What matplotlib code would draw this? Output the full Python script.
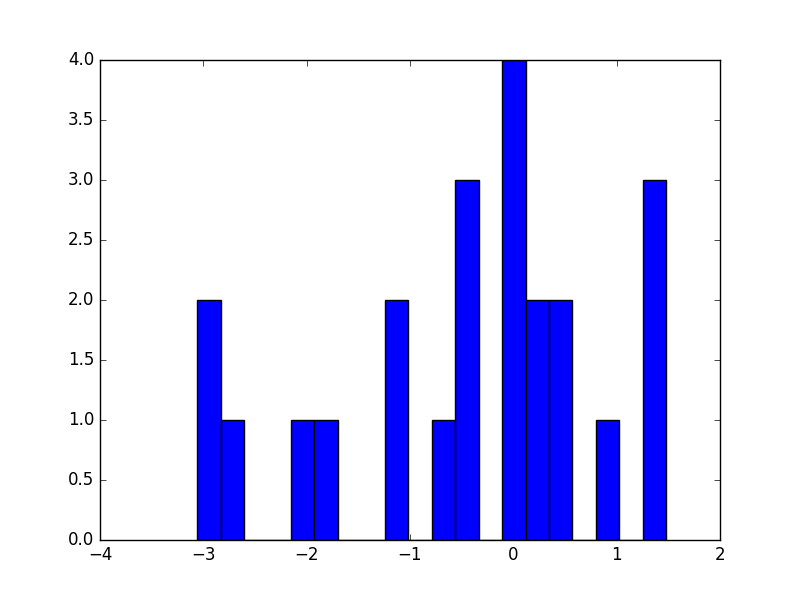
import numpy as np
import matplotlib
matplotlib.use("Agg")
import matplotlib.pyplot as plt

plt.style.use('classic')

bin_left = -3.06
bin_right = 1.48
n_bins = 20
counts = [2, 1, 0, 0, 1, 1, 0, 0, 2, 0, 1, 3, 0, 4, 2, 2, 0, 1, 0, 3]

edges = np.linspace(bin_left, bin_right, n_bins + 1)
centers = (edges[:-1] + edges[1:]) / 2

fig = plt.figure(figsize=(8, 6), dpi=100)
ax = fig.add_subplot(111)
ax.hist(centers, bins=edges, weights=counts, color='blue', edgecolor='black')
ax.set_xlim(-4, 2)
ax.set_ylim(0, 4)
fig.savefig("out.png", dpi=100)
